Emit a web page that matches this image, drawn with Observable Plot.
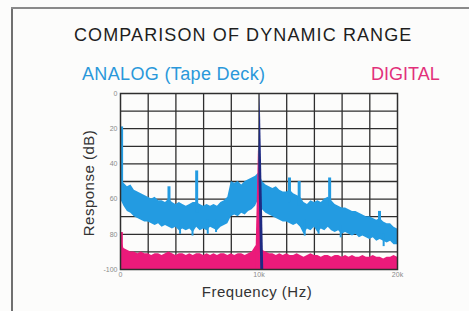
<!DOCTYPE html>
<html><head><meta charset="utf-8">
<script src="https://cdn.jsdelivr.net/npm/d3@7"></script>
<script src="https://cdn.jsdelivr.net/npm/@observablehq/plot@0.6"></script>
<style>
html,body{margin:0;padding:0;background:#fcfcfb;}
#wrap{position:relative;width:469px;height:311px;overflow:hidden;font-family:"Liberation Sans",Arial,sans-serif;}
#frameL{position:absolute;left:11px;top:8px;width:2px;height:320px;background:#707070;}
#frameT{position:absolute;left:11px;top:7px;width:470px;height:2px;background:#8a8a8a;}
.t{position:absolute;white-space:nowrap;line-height:1;}
#title{left:74px;top:26px;font-size:18px;letter-spacing:1.1px;color:#1e1e1e;}
#analog{left:82px;top:65px;font-size:18px;letter-spacing:0.35px;color:#2a98da;}
#digital{left:371px;top:65px;font-size:18px;color:#e2307a;}
#ylab{left:88px;top:183px;font-size:15px;color:#333;transform:translate(-50%,-50%) rotate(-90deg);letter-spacing:0.5px;}
#xlab{left:257px;top:284px;font-size:15px;color:#333;transform:translateX(-50%);letter-spacing:0.5px;}
#chart{position:absolute;left:0;top:0;}
</style></head>
<body>
<div id="wrap">
  <div id="chart"></div>
  <div id="frameL"></div><div id="frameT"></div>
  <div class="t" id="title">COMPARISON OF DYNAMIC RANGE</div>
  <div class="t" id="analog">ANALOG (Tape Deck)</div>
  <div class="t" id="digital">DIGITAL</div>
  <div class="t" id="ylab">Response (dB)</div>
  <div class="t" id="xlab">Frequency (Hz)</div>
</div>
<script>
// Frequency sample points (Hz), every 250 Hz from 0 to 20 kHz
const freqs = d3.range(0, 20001, 250);

// Analog (tape deck) noise band: upper and lower envelope, dB
const analogTop = [
  -49,-51,-53,-52,-55,-56,-57,-58,-59,-60,-59,-61,-61,-62,-60,-62,-63,-62,-63,-64,
  -63,-62,-62,-63,-64,-63,-64,-63,-64,-62,-61,-59,-50,-51,-50,-52,-50,-49,-48,-47,
  -45,-50,-52,-53,-54,-53,-55,-56,-56,-55,-57,-58,-59,-62,-63,-61,-62,-61,-62,-60,
  -59,-61,-63,-64,-65,-65,-66,-67,-67,-68,-69,-70,-70,-71,-72,-71,-73,-74,-74,-76,-77
];
const analogBottom = [
  -60,-64,-67,-68,-70,-71,-72,-73,-73,-74,-75,-74,-76,-75,-76,-77,-76,-78,-77,-78,
  -77,-79,-76,-78,-77,-78,-76,-77,-78,-76,-75,-74,-70,-69,-70,-68,-69,-67,-66,-64,
  -60,-66,-68,-69,-70,-71,-72,-73,-73,-74,-75,-74,-76,-80,-77,-78,-76,-79,-77,-78,
  -76,-78,-79,-78,-80,-79,-80,-81,-80,-82,-81,-82,-83,-82,-84,-83,-84,-85,-84,-86,-86
];
// Digital noise floor: upper edge, dB (band runs down to -100)
const digitalTop = [
  -82,-88,-89,-90,-90,-91,-90,-91,-91,-92,-91,-91,-92,-91,-90,-91,-92,-91,-91,-92,
  -91,-92,-91,-91,-92,-91,-92,-91,-92,-91,-91,-92,-91,-92,-91,-91,-92,-91,-90,-87,
  -85,-89,-90,-91,-91,-92,-91,-92,-91,-92,-92,-91,-92,-93,-92,-91,-92,-92,-93,-92,
  -92,-93,-92,-92,-93,-92,-93,-92,-93,-93,-92,-93,-93,-92,-93,-93,-94,-93,-93,-92,-93
];

// Narrow upward spikes in the analog spectrum: frequency, base dB, peak dB
const analogSpikeFreq = [80, 3500, 5500, 12200, 12900, 15100, 18700];
const analogSpikeBase = [-56, -66, -68, -62, -64, -64, -76];
const analogSpikePeak = [-19, -53, -44, -48, -50, -48, -67];
// Narrow downward dips in the analog spectrum
const analogDipFreq = [4300, 5200, 6300, 6900, 13300, 14300, 15900, 19000];
const analogDipTop = [-72, -72, -72, -72, -72, -72, -75, -80];
const analogDipBottom = [-80, -81, -80, -79, -81, -80, -82, -87];
// Digital spike at DC
const digitalSpikeFreq = [80];
const digitalSpikePeak = [-79];

// 10 kHz test tone
const toneFreqAnalog = [9820, 10080, 10340];
const toneDbAnalog = [-100, 0, -100];
const toneFreqDigital = [9760, 9960, 10130];
const toneDbDigital = [-100, -32, -100];

// Axis ticks and grid
const xTicks = [0, 10000, 20000];
const xGrid = [2000, 4000, 6000, 8000, 10000, 12000, 14000, 16000, 18000];
const yTicks = [-100, -80, -60, -40, -20, 0];
const yGrid = [-90, -80, -70, -60, -50, -40, -30, -20, -10];

const analog = freqs.map((f, i) => ({f, top: analogTop[i], bottom: analogBottom[i]}));
const digital = freqs.map((f, i) => ({f, top: digitalTop[i]}));
const aSpikes = analogSpikeFreq.map((f, i) => ({f, base: analogSpikeBase[i], peak: analogSpikePeak[i]}));
const aDips = analogDipFreq.map((f, i) => ({f, top: analogDipTop[i], bottom: analogDipBottom[i]}));
const dSpikes = digitalSpikeFreq.map((f, i) => ({f, peak: digitalSpikePeak[i]}));
const toneA = toneFreqAnalog.map((f, i) => ({f, db: toneDbAnalog[i]}));
const toneD = toneFreqDigital.map((f, i) => ({f, db: toneDbDigital[i]}));

const BLUE = "#239be1", PINK = "#eb1a7a", NAVY = "#1e2a82", GRID = "#2e2e2e";

const chart = Plot.plot({
  width: 469, height: 311,
  marginLeft: 120, marginRight: 72, marginTop: 93, marginBottom: 42,
  style: {fontSize: "7px", fontFamily: "Liberation Sans, Arial, sans-serif", color: "#8a8a8a", background: "transparent"},
  x: {domain: [0, 20000], ticks: xTicks, tickFormat: d => d === 0 ? "0" : (d / 1000) + "k", tickSize: 0, tickPadding: 3, label: null},
  y: {domain: [-100, 0], ticks: yTicks, tickFormat: d => d === -100 ? "-100" : String(-d), tickSize: 0, tickPadding: 3, label: null},
  marks: [
    Plot.ruleX(xGrid, {stroke: GRID, strokeWidth: 1.3}),
    Plot.ruleY(yGrid, {stroke: GRID, strokeWidth: 1.3}),
    Plot.areaY(analog, {x: "f", y1: "bottom", y2: "top", fill: BLUE}),
    Plot.ruleX(aSpikes, {x: "f", y1: "base", y2: "peak", stroke: BLUE, strokeWidth: 3}),
    Plot.ruleX(aDips, {x: "f", y1: "bottom", y2: "top", stroke: BLUE, strokeWidth: 2}),
    Plot.areaY(digital, {x: "f", y1: -100, y2: "top", fill: PINK}),
    Plot.ruleX(dSpikes, {x: "f", y1: -100, y2: "peak", stroke: PINK, strokeWidth: 2.5}),
    Plot.areaY(toneA, {x: "f", y1: -100, y2: "db", fill: NAVY}),
    Plot.areaY(toneD, {x: "f", y1: -100, y2: "db", fill: PINK}),
    Plot.frame({stroke: GRID, strokeWidth: 1.5})
  ]
});
document.getElementById("chart").appendChild(chart);
</script>
</body></html>
